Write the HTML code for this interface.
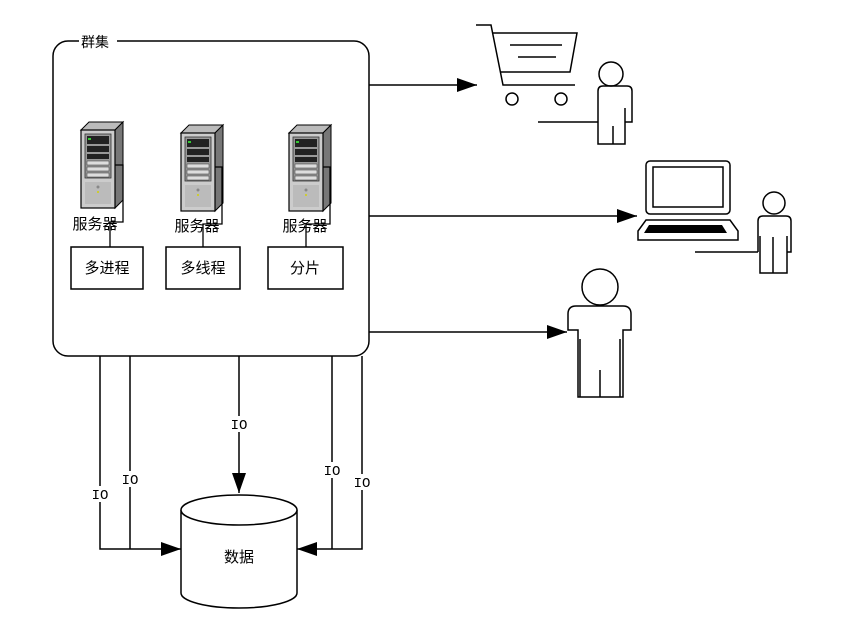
<!DOCTYPE html>
<html><head><meta charset="utf-8"><style>
html,body{margin:0;padding:0;background:#fff;}
svg{display:block;font-family:"Liberation Sans","Noto Sans CJK SC",sans-serif;}
</style></head><body>
<svg width="843" height="619" viewBox="0 0 843 619" xmlns="http://www.w3.org/2000/svg">
<defs>
<marker id="a" viewBox="0 0 20 14" refX="20" refY="7" markerWidth="20" markerHeight="14" markerUnits="userSpaceOnUse" orient="auto"><path d="M0,0L20,7L0,14z" fill="#000"/></marker>
<g id="srv">
  <path d="M0,8 L8,0 L42,0 L34,8z" fill="#bbb" stroke="#000" stroke-width="1"/>
  <path d="M34,8 L42,0 L42,78 L34,86z" fill="#777" stroke="#000" stroke-width="1"/>
  <rect x="0" y="8" width="34" height="78" fill="#ccc" stroke="#000" stroke-width="1.2"/>
  <rect x="4" y="12" width="26" height="44" fill="#999" stroke="#333" stroke-width="0.8"/>
  <rect x="6" y="14" width="22" height="8" fill="#222"/>
  <rect x="6" y="24" width="22" height="6" fill="#222"/>
  <rect x="6" y="32" width="22" height="5" fill="#222"/>
  <rect x="6" y="39" width="22" height="4" fill="#ddd" stroke="#333" stroke-width="0.5"/>
  <rect x="6" y="45" width="22" height="4" fill="#ddd" stroke="#333" stroke-width="0.5"/>
  <rect x="6" y="51" width="22" height="4" fill="#ddd" stroke="#333" stroke-width="0.5"/>
  <rect x="7" y="16" width="3" height="2" fill="#3c3"/>
  <rect x="4" y="60" width="26" height="22" fill="#bbb"/>
  <circle cx="17" cy="65" r="1.5" fill="#888"/>
  <rect x="16" y="69" width="2" height="2" fill="#cc3"/>
</g>
</defs>
<g fill="none" stroke="#000" stroke-width="1.5">
<rect x="53" y="41" width="316" height="315" rx="15"/>
</g>
<rect x="79" y="35" width="38" height="12" fill="#fff"/>
<text x="81" y="47" font-size="14">群集</text>

<use href="#srv" x="81" y="122"/>
<use href="#srv" x="181" y="125"/>
<use href="#srv" x="289" y="125"/>
<g fill="none" stroke="#000" stroke-width="1.3">
<path d="M115,165H123V222H110V247"/>
<path d="M215,167H222V224H203V247"/>
<path d="M323,167H330V224H306V247"/>
</g>
<g font-size="15" text-anchor="middle">
<text x="95" y="229">服务器</text>
<text x="197" y="231">服务器</text>
<text x="305" y="231">服务器</text>
</g>
<g fill="#fff" stroke="#000" stroke-width="1.5">
<rect x="71" y="247" width="72" height="42"/>
<rect x="166" y="247" width="74" height="42"/>
<rect x="268" y="247" width="75" height="42"/>
</g>
<g font-size="15" text-anchor="middle">
<text x="107" y="273">多进程</text>
<text x="203" y="273">多线程</text>
<text x="305" y="273">分片</text>
</g>

<g fill="none" stroke="#000" stroke-width="1.5">
<path d="M369,85H477" marker-end="url(#a)"/>
<path d="M369,216H637" marker-end="url(#a)"/>
<path d="M369,332H567" marker-end="url(#a)"/>
<!-- cart -->
<path d="M476,25H491L503,85H575"/>
<path d="M492,33H577L570,72H500"/>
<path d="M510,45H562M518,57H556"/>
<circle cx="512" cy="99" r="6"/>
<circle cx="561" cy="99" r="6"/>
<!-- person1 -->
<circle cx="611" cy="74" r="12"/>
<path d="M598,122V91Q598,86 603,86H627Q632,86 632,91V122H625V144H598V122M613,126V144M598,108V122M625,108V122"/>
<path d="M538,122H598"/>
<!-- laptop -->
<rect x="646" y="161" width="84" height="53" rx="4"/>
<rect x="653" y="167" width="70" height="40"/>
<path d="M646,220H730L738,231V240H638V231z"/>
<!-- person2 -->
<circle cx="774" cy="203" r="11"/>
<path d="M758,252V221Q758,216 763,216H786Q791,216 791,221V252H787V273H760V252M773,237V273M760,236V252M787,236V252"/>
<path d="M695,252H758"/>
<!-- person3 -->
<circle cx="600" cy="287" r="18"/>
<path d="M568,330V314Q568,306 576,306H623Q631,306 631,314V330H623V397H578V330z M580,339V397 M620,339V397 M600,370V397"/>
</g>
<path d="M649,225H722L727,233H644z" fill="#000"/>

<!-- bottom connectors -->
<g fill="none" stroke="#000" stroke-width="1.5">
<path d="M100,356V549H181" marker-end="url(#a)"/>
<path d="M130,356V549"/>
<path d="M239,356V493" marker-end="url(#a)"/>
<path d="M362,356V549H297" marker-end="url(#a)"/>
<path d="M332,356V549"/>
<path d="M181,510V593A58,15 0 0 0 297,593V510"/>
<ellipse cx="239" cy="510" rx="58" ry="15" fill="#fff"/>
</g>
<g font-size="14" text-anchor="middle" font-family="Liberation Mono,monospace">
<rect x="88" y="486" width="24" height="16" fill="#fff"/><text x="100" y="499">IO</text>
<rect x="118" y="471" width="24" height="16" fill="#fff"/><text x="130" y="484">IO</text>
<rect x="227" y="416" width="24" height="16" fill="#fff"/><text x="239" y="429">IO</text>
<rect x="320" y="462" width="24" height="16" fill="#fff"/><text x="332" y="475">IO</text>
<rect x="350" y="474" width="24" height="16" fill="#fff"/><text x="362" y="487">IO</text>
</g>
<text x="239" y="562" font-size="15" text-anchor="middle">数据</text>
</svg>
</body></html>
